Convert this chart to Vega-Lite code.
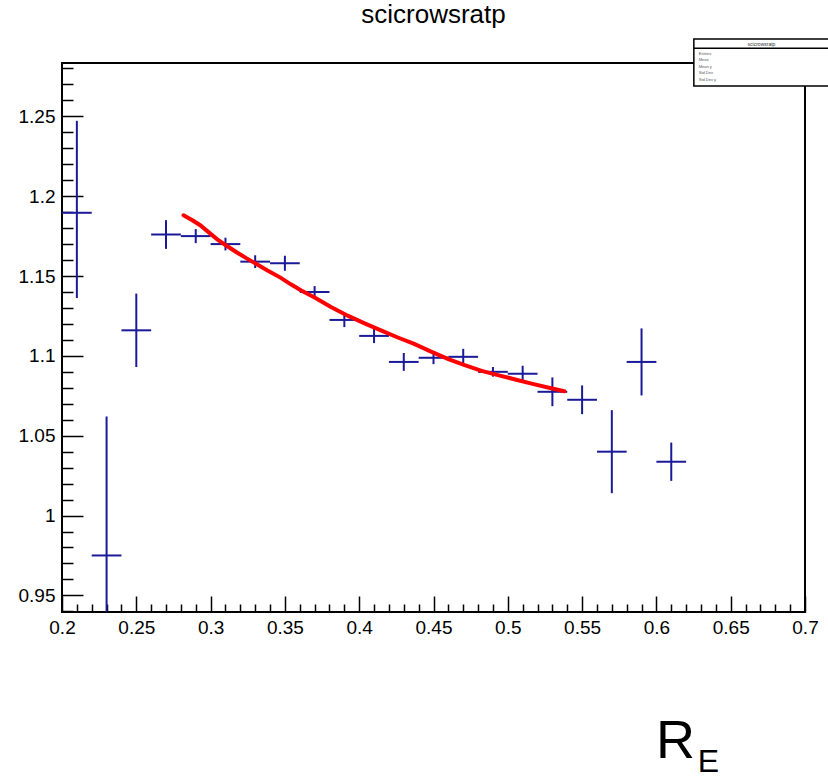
{
  "$schema": "https://vega.github.io/schema/vega-lite/v6.json",
  "width": 743,
  "height": 549,
  "autosize": "none",
  "padding": {"left": 62, "top": 63, "right": 23, "bottom": 165},
  "background": "white",
  "config": {
    "view": {"stroke": "black", "strokeWidth": 2},
    "font": "Liberation Sans",
    "axis": {"grid": false, "labelColor": "black", "titleColor": "black", "tickColor": "black", "domainColor": "black", "labelFont": "Liberation Sans", "titleFont": "Liberation Sans", "titleFontWeight": "normal"}
  },
  "title": {"text": "scicrowsratp", "fontSize": 26, "font": "Liberation Sans", "fontWeight": "normal", "anchor": "middle", "frame": "group", "offset": 10, "color": "black"},
  "datasets": {
    "points": [
      {"x": 0.21, "xlo": 0.20, "xhi": 0.22, "y": 1.1896, "ylo": 1.1362, "yhi": 1.2472},
      {"x": 0.23, "xlo": 0.22, "xhi": 0.24, "y": 0.975, "ylo": 0.888, "yhi": 1.062},
      {"x": 0.25, "xlo": 0.24, "xhi": 0.26, "y": 1.116, "ylo": 1.093, "yhi": 1.139},
      {"x": 0.27, "xlo": 0.26, "xhi": 0.28, "y": 1.176, "ylo": 1.167, "yhi": 1.185},
      {"x": 0.29, "xlo": 0.28, "xhi": 0.30, "y": 1.175, "ylo": 1.1706, "yhi": 1.1794},
      {"x": 0.31, "xlo": 0.30, "xhi": 0.32, "y": 1.170, "ylo": 1.166, "yhi": 1.174},
      {"x": 0.33, "xlo": 0.32, "xhi": 0.34, "y": 1.159, "ylo": 1.155, "yhi": 1.163},
      {"x": 0.35, "xlo": 0.34, "xhi": 0.36, "y": 1.158, "ylo": 1.1533, "yhi": 1.1627},
      {"x": 0.37, "xlo": 0.36, "xhi": 0.38, "y": 1.140, "ylo": 1.1363, "yhi": 1.1437},
      {"x": 0.39, "xlo": 0.38, "xhi": 0.40, "y": 1.1225, "ylo": 1.118, "yhi": 1.127},
      {"x": 0.41, "xlo": 0.40, "xhi": 0.42, "y": 1.1125, "ylo": 1.108, "yhi": 1.117},
      {"x": 0.43, "xlo": 0.42, "xhi": 0.44, "y": 1.0962, "ylo": 1.0906, "yhi": 1.1018},
      {"x": 0.45, "xlo": 0.44, "xhi": 0.46, "y": 1.0988, "ylo": 1.0948, "yhi": 1.1028},
      {"x": 0.47, "xlo": 0.46, "xhi": 0.48, "y": 1.0994, "ylo": 1.0944, "yhi": 1.1044},
      {"x": 0.49, "xlo": 0.48, "xhi": 0.50, "y": 1.090, "ylo": 1.087, "yhi": 1.093},
      {"x": 0.51, "xlo": 0.50, "xhi": 0.52, "y": 1.0888, "ylo": 1.0838, "yhi": 1.0938},
      {"x": 0.53, "xlo": 0.52, "xhi": 0.54, "y": 1.0775, "ylo": 1.0685, "yhi": 1.0865},
      {"x": 0.55, "xlo": 0.54, "xhi": 0.56, "y": 1.0725, "ylo": 1.0635, "yhi": 1.0815},
      {"x": 0.57, "xlo": 0.56, "xhi": 0.58, "y": 1.040, "ylo": 1.014, "yhi": 1.066},
      {"x": 0.59, "xlo": 0.58, "xhi": 0.60, "y": 1.0962, "ylo": 1.0752, "yhi": 1.1172},
      {"x": 0.61, "xlo": 0.60, "xhi": 0.62, "y": 1.0337, "ylo": 1.0217, "yhi": 1.0457}
    ],
    "fit": [
      {"x": 0.2818, "y": 1.188},
      {"x": 0.288, "y": 1.1848},
      {"x": 0.293, "y": 1.1818},
      {"x": 0.299, "y": 1.1772},
      {"x": 0.3047, "y": 1.1728},
      {"x": 0.311, "y": 1.1688},
      {"x": 0.318, "y": 1.1646},
      {"x": 0.324, "y": 1.1612},
      {"x": 0.33, "y": 1.158},
      {"x": 0.338, "y": 1.1536},
      {"x": 0.347, "y": 1.149},
      {"x": 0.354, "y": 1.1448},
      {"x": 0.361, "y": 1.141},
      {"x": 0.37, "y": 1.1365},
      {"x": 0.381, "y": 1.1306},
      {"x": 0.3926, "y": 1.125},
      {"x": 0.404, "y": 1.1202},
      {"x": 0.415, "y": 1.1158},
      {"x": 0.426, "y": 1.1115},
      {"x": 0.437, "y": 1.1075},
      {"x": 0.448, "y": 1.1028},
      {"x": 0.46, "y": 1.098},
      {"x": 0.471, "y": 1.0942},
      {"x": 0.4824, "y": 1.0906},
      {"x": 0.494, "y": 1.0878},
      {"x": 0.505, "y": 1.0852},
      {"x": 0.516, "y": 1.0826},
      {"x": 0.527, "y": 1.0802},
      {"x": 0.538, "y": 1.0778}
    ]
  },
  "layer": [
    {
      "data": {"name": "points"},
      "mark": {"type": "rule", "color": "#1a1a99", "strokeWidth": 2, "clip": true},
      "encoding": {
        "x": {"field": "x", "type": "quantitative", "scale": {"domain": [0.2, 0.7], "nice": false, "zero": false},
          "axis": {"orient": "bottom", "values": [0.2, 0.25, 0.3, 0.35, 0.4, 0.45, 0.5, 0.55, 0.6, 0.65, 0.7], "format": ".2~f", "ticks": false, "domain": false, "labelFontSize": 19, "labelPadding": 6, "labelFlush": false, "labelOverlap": false, "title": "R", "titleFontSize": 54, "titleX": 613, "titleY": 145, "titleAlign": "center", "titleBaseline": "alphabetic", "titleAnchor": null}},
        "y": {"field": "ylo", "type": "quantitative", "scale": {"domain": [0.9396, 1.2834], "nice": false, "zero": false},
          "axis": {"orient": "left", "values": [0.95, 1, 1.05, 1.1, 1.15, 1.2, 1.25], "format": ".2~f", "ticks": false, "domain": false, "labelFontSize": 19, "labelPadding": 7, "labelFlush": false, "labelOverlap": false, "title": null}},
        "y2": {"field": "yhi"}
      }
    },
    {
      "data": {"name": "points"},
      "mark": {"type": "rule", "color": "#1a1a99", "strokeWidth": 2, "clip": true},
      "encoding": {
        "x": {"field": "xlo", "type": "quantitative",
          "axis": {"orient": "bottom", "values": [0.2, 0.25, 0.3, 0.35, 0.4, 0.45, 0.5, 0.55, 0.6, 0.65, 0.7], "labels": false, "domain": false, "tickSize": 16, "tickWidth": 1.5, "offset": -16, "title": "E", "titleFontSize": 32, "titleX": 646, "titleY": 175, "titleAlign": "center", "titleBaseline": "alphabetic", "titleAnchor": null}},
        "x2": {"field": "xhi"},
        "y": {"field": "y", "type": "quantitative",
          "axis": {"orient": "left", "values": [0.95, 1, 1.05, 1.1, 1.15, 1.2, 1.25], "labels": false, "domain": false, "tickSize": 21, "tickWidth": 1.5, "offset": -21, "title": null}}
      }
    },
    {
      "data": {"name": "fit"},
      "mark": {"type": "line", "color": "#ff0000", "strokeWidth": 4, "strokeCap": "round", "clip": true},
      "encoding": {
        "x": {"field": "x", "type": "quantitative",
          "axis": {"orient": "bottom", "values": [0.21, 0.22, 0.23, 0.24, 0.26, 0.27, 0.28, 0.29, 0.31, 0.32, 0.33, 0.34, 0.36, 0.37, 0.38, 0.39, 0.41, 0.42, 0.43, 0.44, 0.46, 0.47, 0.48, 0.49, 0.51, 0.52, 0.53, 0.54, 0.56, 0.57, 0.58, 0.59, 0.61, 0.62, 0.63, 0.64, 0.66, 0.67, 0.68, 0.69], "labels": false, "domain": false, "tickSize": 8, "tickWidth": 1.5, "offset": -8, "title": null}},
        "y": {"field": "y", "type": "quantitative",
          "axis": {"orient": "left", "values": [0.94, 0.96, 0.97, 0.98, 0.99, 1.01, 1.02, 1.03, 1.04, 1.06, 1.07, 1.08, 1.09, 1.11, 1.12, 1.13, 1.14, 1.16, 1.17, 1.18, 1.19, 1.21, 1.22, 1.23, 1.24, 1.26, 1.27, 1.28], "labels": false, "domain": false, "tickSize": 11, "tickWidth": 1.5, "offset": -11, "title": null}}
      }
    },
    {
      "data": {"values": [{}]},
      "mark": {"type": "rect", "fill": "white", "stroke": "black", "strokeWidth": 1.5, "clip": false},
      "encoding": {
        "x": {"datum": 0.6252, "type": "quantitative", "axis": null},
        "x2": {"datum": 0.7162},
        "y": {"datum": 1.2690, "type": "quantitative", "axis": null},
        "y2": {"datum": 1.2984}
      }
    },
    {
      "data": {"values": [{}]},
      "mark": {"type": "rule", "stroke": "black", "strokeWidth": 1.5, "clip": false},
      "encoding": {
        "x": {"datum": 0.6252, "type": "quantitative", "axis": null},
        "x2": {"datum": 0.7162},
        "y": {"datum": 1.2927, "type": "quantitative", "axis": null}
      }
    },
    {
      "data": {"values": [{}]},
      "mark": {"type": "text", "text": "scicrowsratp", "fontSize": 5, "color": "#333333", "align": "center", "baseline": "middle", "clip": false},
      "encoding": {
        "x": {"datum": 0.6707, "type": "quantitative", "axis": null},
        "y": {"datum": 1.2956, "type": "quantitative", "axis": null}
      }
    },
    {
      "data": {"values": [{}]},
      "mark": {"type": "text", "text": ["Entries", "Mean", "Mean y", "Std Dev", "Std Dev y"], "fontSize": 4, "lineHeight": 6.5, "color": "#555555", "align": "left", "baseline": "top", "clip": false},
      "encoding": {
        "x": {"datum": 0.6285, "type": "quantitative", "axis": null},
        "y": {"datum": 1.2905, "type": "quantitative", "axis": null}
      }
    }
  ],
  "resolve": {"axis": {"x": "independent", "y": "independent"}}
}
